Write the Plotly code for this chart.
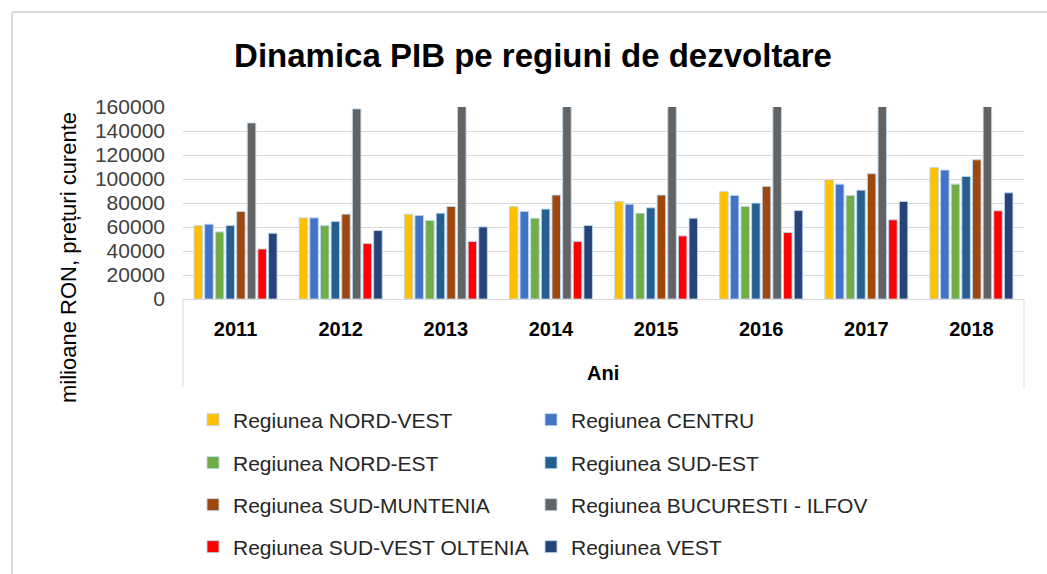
import plotly.graph_objects as go

# Regional GDP (milioane RON, prețuri curente), 2011-2018
years = ["2011", "2012", "2013", "2014", "2015", "2016", "2017", "2018"]

nord_vest = [61200, 67600, 70700, 77100, 81300, 89600, 99400, 109600]
centru = [62300, 67600, 69600, 72900, 79000, 86300, 95700, 107400]
nord_est = [55900, 61200, 65400, 67300, 71500, 77100, 86300, 95700]
sud_est = [61200, 64600, 71500, 74900, 76000, 79900, 90700, 102100]
sud_muntenia = [72900, 70700, 77100, 86600, 86600, 93800, 104400, 116000]
bucuresti_ilfov = [146700, 158400, 168000, 175000, 185000, 200000, 222000, 245000]
sud_vest_oltenia = [41700, 46200, 47900, 47900, 52600, 55400, 66000, 73500]
vest = [54800, 57000, 60100, 61200, 67300, 73700, 81300, 88500]

series_names = [
    "Regiunea NORD-VEST", "Regiunea CENTRU",
    "Regiunea NORD-EST", "Regiunea SUD-EST",
    "Regiunea SUD-MUNTENIA", "Regiunea BUCURESTI - ILFOV",
    "Regiunea SUD-VEST OLTENIA", "Regiunea VEST",
]
series_values = [nord_vest, centru, nord_est, sud_est,
                 sud_muntenia, bucuresti_ilfov, sud_vest_oltenia, vest]
series_colors = ["#FFC000", "#4472C4", "#70AD47", "#255E91",
                 "#9E480E", "#636363", "#FF0000", "#264478"]

y_ticks = [0, 20000, 40000, 60000, 80000, 100000, 120000, 140000, 160000]

FONT = "Liberation Sans, Arial, sans-serif"
W, H = 1047, 574
L, R, T, B = 183, 23, 107, 275
PW, PH = W - L - R, H - T - B


def px_to_paper_x(px):
    return (px - L) / PW


def px_to_paper_y(py):
    return (H - B - py) / PH


# legend rows: two entries per row, each row its own legend
legend_ids = ["legend", "legend2", "legend3", "legend4"]
row_centers = [420, 463, 505, 547]

fig = go.Figure()
for i, (name, vals, col) in enumerate(zip(series_names, series_values, series_colors)):
    fig.add_trace(go.Bar(
        x=years, y=vals, name=name,
        marker=dict(color=col, line=dict(color="rgba(189,215,238,0.9)", width=1)),
        legend=legend_ids[i // 2],
    ))

legend_common = dict(
    orientation="h", xanchor="left", yanchor="middle",
    x=px_to_paper_x(193), entrywidth=293, entrywidthmode="pixels",
    font=dict(family=FONT, size=21, color="#262626"),
    bgcolor="rgba(0,0,0,0)", itemclick=False, itemdoubleclick=False,
    tracegroupgap=0,
)
legends = {}
for lid, yc in zip(legend_ids, row_centers):
    legends[lid] = dict(legend_common, y=px_to_paper_y(yc))

shapes = [
    # chart frame (left and top edges)
    dict(type="line", xref="paper", yref="paper",
         x0=px_to_paper_x(12), x1=px_to_paper_x(12),
         y0=px_to_paper_y(12), y1=px_to_paper_y(574),
         line=dict(color="#D9D9D9", width=2)),
    dict(type="line", xref="paper", yref="paper",
         x0=px_to_paper_x(12), x1=px_to_paper_x(1047),
         y0=px_to_paper_y(12), y1=px_to_paper_y(12),
         line=dict(color="#D9D9D9", width=2)),
    # category axis box sides
    dict(type="line", xref="paper", yref="paper",
         x0=0, x1=0, y0=0, y1=px_to_paper_y(387),
         line=dict(color="#D9D9D9", width=1)),
    dict(type="line", xref="paper", yref="paper",
         x0=1, x1=1, y0=0, y1=px_to_paper_y(387),
         line=dict(color="#D9D9D9", width=1)),
]

fig.update_layout(
    width=W, height=H,
    margin=dict(l=L, r=R, t=T, b=B, pad=0, autoexpand=False),
    paper_bgcolor="white", plot_bgcolor="white",
    barmode="group", bargap=0.19, bargroupgap=0.2,
    title=dict(text="<b>Dinamica PIB pe regiuni de dezvoltare</b>",
               x=533 / W, xanchor="center", y=1 - 55 / H, yanchor="middle",
               font=dict(family=FONT, size=33, color="#000000")),
    xaxis=dict(
        showgrid=False, showline=True, linecolor="#D9D9D9", linewidth=1,
        ticks="", tickfont=dict(family=FONT, size=20, color="#000000"),
        tickprefix="<b>", ticksuffix="</b>", ticklabelstandoff=12,
    ),
    yaxis=dict(
        range=[0, 160000], tickvals=y_ticks, ticktext=[str(v) for v in y_ticks],
        showgrid=True, gridcolor="#D9D9D9", gridwidth=1, zeroline=False,
        showline=False, ticks="", ticklabelstandoff=17,
        tickfont=dict(family=FONT, size=21, color="#404040"),
    ),
    annotations=[
        dict(text="<b>Ani</b>", xref="paper", yref="paper",
             x=px_to_paper_x(603), y=px_to_paper_y(373),
             xanchor="center", yanchor="middle", showarrow=False,
             font=dict(family=FONT, size=20, color="#000000")),
        dict(text="milioane RON, prețuri curente", xref="paper", yref="paper",
             x=px_to_paper_x(68), y=px_to_paper_y(257), textangle=-90,
             xanchor="center", yanchor="middle", showarrow=False,
             font=dict(family=FONT, size=22, color="#000000")),
    ],
    shapes=shapes,
    **legends,
)

fig.write_html("out.html")
